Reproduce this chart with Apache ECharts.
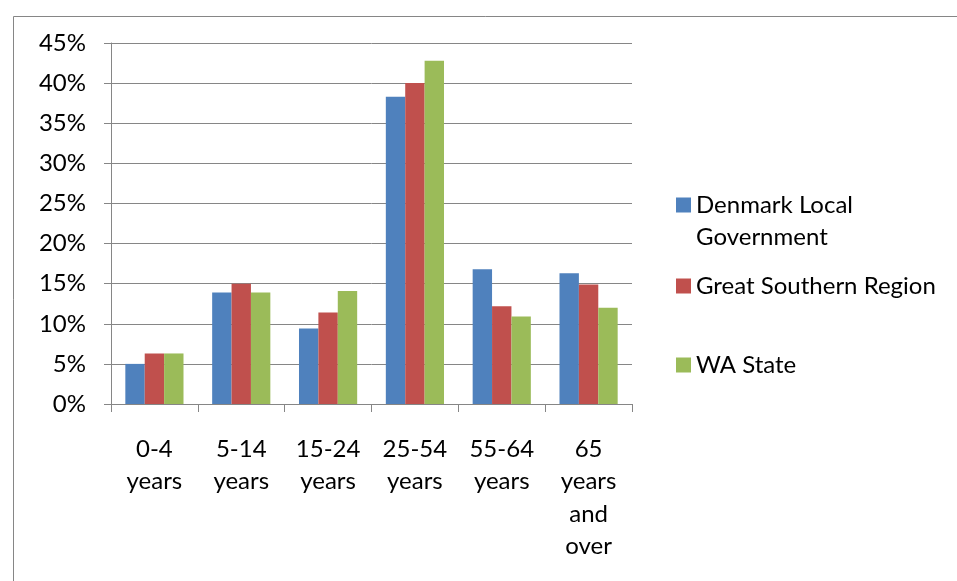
<!DOCTYPE html>
<html>
<head>
<meta charset="utf-8">
<style>
  html, body { margin: 0; padding: 0; background: #ffffff; }
  #chart { width: 957px; height: 581px; }
</style>
<script src="https://cdn.jsdelivr.net/npm/echarts@6/dist/echarts.min.js"></script>
</head>
<body>
<div id="chart"></div>
<script>
// Age groups along the x axis
const categories = ['0-4\nyears', '5-14\nyears', '15-24\nyears', '25-54\nyears', '55-64\nyears', '65\nyears\nand\nover'];

// Share of population in each age group (%)
const denmarkLocal = [5.0, 13.9, 9.4, 38.3, 16.8, 16.3];
const greatSouthern = [6.3, 15.0, 11.4, 40.0, 12.2, 14.9];
const waState = [6.3, 13.9, 14.1, 42.8, 10.9, 12.0];

const seriesNames = ['Denmark Local Government', 'Great Southern Region', 'WA State'];
const seriesColors = ['#4F81BD', '#C0504D', '#9BBB59'];

const FONT = 'Lato, "Open Sans", "Liberation Sans", sans-serif';
const FONT_SIZE = 24;
const GRID_COLOR = '#868686';

const chart = echarts.init(document.getElementById('chart'), null, { renderer: 'canvas' });

function legendAt(name, top, extra) {
  return Object.assign({
    data: [name],
    orient: 'vertical',
    left: 676,
    top: top,
    padding: 0,
    itemWidth: 15,
    itemHeight: 15,
    icon: 'rect',
    selectedMode: false,
    textStyle: { fontFamily: FONT, fontSize: FONT_SIZE, color: '#000', lineHeight: 32 }
  }, extra || {});
}

const option = {
  animation: false,
  backgroundColor: '#ffffff',
  textStyle: { fontFamily: FONT },
  graphic: [{
    type: 'rect',
    left: 11,
    top: 14,
    shape: { x: 0, y: 0, width: 1000, height: 1000 },
    style: { fill: 'none', stroke: GRID_COLOR, lineWidth: 1 },
    silent: true
  }],
  grid: { left: 111, right: 325, top: 43, bottom: 177 },
  legend: [
    // leading blank line keeps the swatch level with the first text line
    legendAt(seriesNames[0], 157, { formatter: '\nDenmark Local\nGovernment' }),
    legendAt(seriesNames[1], 270),
    legendAt(seriesNames[2], 349)
  ],
  xAxis: {
    type: 'category',
    data: categories,
    axisLine: { lineStyle: { color: GRID_COLOR, width: 1 } },
    axisTick: { show: true, length: 8, alignWithLabel: false, lineStyle: { color: GRID_COLOR } },
    axisLabel: {
      interval: 0,
      margin: 29,
      color: '#000',
      fontFamily: FONT,
      fontSize: FONT_SIZE,
      lineHeight: 32.5
    },
    splitLine: { show: false }
  },
  yAxis: {
    type: 'value',
    min: 0,
    max: 45,
    interval: 5,
    axisLine: { show: true, lineStyle: { color: GRID_COLOR, width: 1 } },
    axisTick: { show: true, length: 7, lineStyle: { color: GRID_COLOR } },
    axisLabel: {
      formatter: '{value}%',
      margin: 25,
      color: '#000',
      fontFamily: FONT,
      fontSize: FONT_SIZE
    },
    splitLine: { show: true, lineStyle: { color: GRID_COLOR, width: 1 } }
  },
  series: [
    { name: seriesNames[0], data: denmarkLocal },
    { name: seriesNames[1], data: greatSouthern },
    { name: seriesNames[2], data: waState }
  ].map((s, i) => ({
    type: 'bar',
    name: s.name,
    data: s.data,
    barGap: '0%',
    barCategoryGap: '33%',
    itemStyle: { color: seriesColors[i] }
  }))
};

chart.setOption(option);
</script>
</body>
</html>
